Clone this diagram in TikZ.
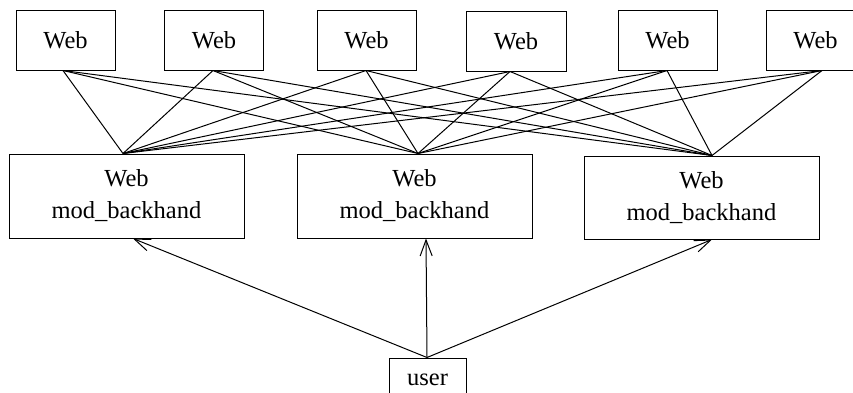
\documentclass[tikz,border=0pt]{standalone}
\usepackage{fontspec}
\setmainfont{Liberation Serif}
\usetikzlibrary{arrows.meta}
\begin{document}
\begin{tikzpicture}[x=1pt,y=-1pt,
  box/.style={draw,line width=1pt,rectangle,inner sep=0pt,align=center,
    font=\fontsize{24.5}{32}\selectfont},
  webbox/.style={box,minimum width=99pt,minimum height=60pt},
  modbox/.style={box,minimum width=235pt,minimum height=84pt},
  link/.style={line width=1pt},
  call/.style={line width=1pt,-{Straight Barb[length=16pt,width=12pt,line width=1pt]}}]
\useasboundingbox (0,0) rectangle (853,392);
\clip (0,0) rectangle (853,392);

% front-end web servers
\node[webbox] (w1) at (65.5,40) {Web};
\node[webbox] (w2) at (214,40) {Web};
\node[webbox] (w3) at (366.5,40) {Web};
\node[webbox,minimum width=100pt] (w4) at (516,41) {Web};
\node[webbox] (w5) at (667.5,40) {Web};
\node[webbox] (w6) at (815.5,40) {Web};

% backhand servers
\node[modbox] (A) at (126.5,196) {Web\\mod\_backhand};
\node[modbox] (B) at (414.5,196) {Web\\mod\_backhand};
\node[modbox,minimum height=83pt] (C) at (701.5,197.5) {Web\\mod\_backhand};

% client
\node[webbox,minimum width=77pt,minimum height=44pt] (u) at (427.5,380) {user};

% full mesh between web servers and backhand servers
\foreach \w/\dx in {w1/-2.5,w2/-1,w3/-0.5,w4/-6,w5/-0.5,w6/6.5}{
  \draw[link] ([xshift=\dx pt]\w.south) -- ([xshift=-3.5pt]A.north);
  \draw[link] ([xshift=\dx pt]\w.south) -- ([xshift=3.5pt]B.north);
  \draw[link] ([xshift=\dx pt]\w.south) -- ([xshift=10.5pt]C.north);
}

% requests from the user
\draw[call] ([xshift=-0.5pt]u.north) -- ([xshift=6.5pt]A.south);
\draw[call] ([xshift=-0.5pt]u.north) -- ([xshift=11.5pt]B.south);
\draw[call] ([xshift=-0.5pt]u.north) -- ([xshift=10.5pt]C.south);
\end{tikzpicture}
\end{document}
